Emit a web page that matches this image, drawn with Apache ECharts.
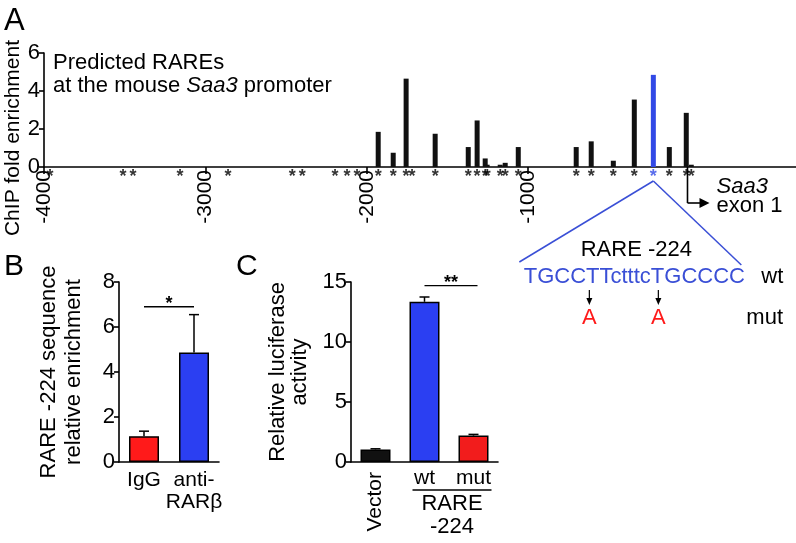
<!DOCTYPE html>
<html><head><meta charset="utf-8">
<script src="https://cdn.jsdelivr.net/npm/echarts@6/dist/echarts.min.js"></script>
<style>html,body{margin:0;padding:0;background:#fff}#c{width:796px;height:543px}</style>
</head><body><div id="c"></div>
<script>
// ---------- Panel A data ----------
const rarePositions = [-3963,-3510,-3448,-3157,-2859,-2462,-2400,-2196,-2122,-2060,-1929,-1836,-1756,-1719,-1576,-1371,-1316,-1266,-1254,-1173,-1142,-1061,-702,-609,-472,-342,-224,-125,-20,11];
const chipEnrichment = [null,null,null,null,null,null,null,null,null,null,1.85,0.75,4.65,null,1.75,1.05,2.45,0.45,0.12,0.12,0.22,1.05,1.05,1.35,0.33,3.55,4.85,1.05,2.85,0.12];
const highlightRare = -224;
const aXTicks = [-4000,-3000,-2000,-1000];
const aXMin = -4000, aXMax = 660;
const aYMax = 6, aYInterval = 2;
const tssPosition = 0;

// ---------- Panel B data ----------
const bCategories = ['IgG', 'anti-\nRARβ'];
const bValues = [1.15, 4.87];
const bErrors = [0.22, 1.68];
const bSigLevel = 6.9;
const bYMax = 8, bYInterval = 2;

// ---------- Panel C data ----------
const cCategories = ['Vector', 'wt', 'mut'];
const cValues = [1.05, 13.35, 2.2];
const cErrors = [0.05, 0.4, 0.1];
const cSigLevel = 14.7;
const cYMax = 15, cYInterval = 5;

// ---------- layout ----------
const gridA = {left: 44, right: 0, top: 53, height: 114};
const gridStars = {left: 44, right: 0, top: 169, height: 16};
const gridB = {left: 119, width: 100, top: 282, height: 180};
const gridC = {left: 351, width: 147, top: 282, height: 180};

const FONT = '"Liberation Sans", Arial, Helvetica, sans-serif';
const BLACK = '#111111';
const BLUE = '#3149e6';
const SEQBLUE = '#3a4fd6';
const RED = '#ff1a1a';
const CRED = '#f21c1c';
const CBLUE = '#2b3ff2';

const chart = echarts.init(document.getElementById('c'), null, {renderer: 'canvas'});

function errorRender(params, api) {
  const x = api.value(0), v = api.value(1), e = api.value(2);
  const p0 = api.coord([x, v]);
  const p1 = api.coord([x, v + e]);
  const hw = 5;
  return {type: 'group', children: [
    {type: 'line', shape: {x1: p0[0], y1: p0[1], x2: p1[0], y2: p1[1]}, style: {stroke: '#000', lineWidth: 1.5}},
    {type: 'line', shape: {x1: p1[0] - hw, y1: p1[1], x2: p1[0] + hw, y2: p1[1]}, style: {stroke: '#000', lineWidth: 1.5}}
  ]};
}

const axisLineStyle = {show: true, onZero: false, lineStyle: {color: '#000', width: 1.6}};
const tickStyle = {show: true, length: 5, lineStyle: {color: '#000', width: 1.6}};

const option = {
  animation: false,
  backgroundColor: '#fff',
  textStyle: {fontFamily: FONT},
  grid: [gridA, gridStars, gridB, gridC],
  xAxis: [
    {gridIndex: 0, type: 'value', min: aXMin, max: aXMax, splitLine: {show: false},
     axisLine: axisLineStyle,
     axisTick: {show: true, length: 7, lineStyle: {color: '#000', width: 1.6}, customValues: aXTicks},
     axisLabel: {show: true, rotate: 90, margin: 3, fontSize: 21, color: '#000', fontFamily: FONT, customValues: aXTicks,
       formatter: v => String(v)}},
    {gridIndex: 1, type: 'value', min: aXMin, max: aXMax, show: false},
    {gridIndex: 2, type: 'category', data: bCategories, axisLine: axisLineStyle, axisTick: {show: false},
     axisLabel: {interval: 0, fontSize: 21, color: '#000', margin: 7, lineHeight: 22, fontFamily: FONT}},
    {gridIndex: 3, type: 'category', data: cCategories, axisLine: axisLineStyle, axisTick: {show: false},
     axisLabel: {interval: 0, fontSize: 21, color: '#000', rotate: 90, margin: 10, fontFamily: FONT,
       formatter: (v, i) => i === 0 ? v : ''}},
    {gridIndex: 3, type: 'category', data: cCategories, position: 'bottom', axisLine: {show: false}, axisTick: {show: false},
     axisLabel: {interval: 0, fontSize: 21, color: '#000', margin: 6, fontFamily: FONT,
       formatter: (v, i) => i === 0 ? '' : v}}
  ],
  yAxis: [
    {gridIndex: 0, type: 'value', min: 0, max: aYMax, interval: aYInterval, splitLine: {show: false},
     axisLine: axisLineStyle, axisTick: tickStyle,
     axisLabel: {fontSize: 22, color: '#000', margin: 4, fontFamily: FONT}},
    {gridIndex: 1, type: 'value', min: -1, max: 1, show: false},
    {gridIndex: 2, type: 'value', min: 0, max: bYMax, interval: bYInterval, splitLine: {show: false},
     axisLine: axisLineStyle, axisTick: tickStyle,
     axisLabel: {fontSize: 22, color: '#000', margin: 4, fontFamily: FONT}},
    {gridIndex: 3, type: 'value', min: 0, max: cYMax, interval: cYInterval, splitLine: {show: false},
     axisLine: axisLineStyle, axisTick: tickStyle,
     axisLabel: {fontSize: 22, color: '#000', margin: 4, fontFamily: FONT}}
  ],
  series: [
    {type: 'bar', xAxisIndex: 0, yAxisIndex: 0, barWidth: 5,
     data: rarePositions.map((p, i) => chipEnrichment[i] == null ? null : {
       value: [p, chipEnrichment[i]],
       itemStyle: {color: p === highlightRare ? BLUE : BLACK}
     }).filter(d => d)},
    {type: 'scatter', xAxisIndex: 1, yAxisIndex: 1, symbolSize: 0, z: 5,
     data: rarePositions.map(p => ({value: [p, 0],
       label: {color: p === highlightRare ? BLUE : '#000'}})),
     label: {show: true, formatter: '*', position: 'inside', fontSize: 18, fontWeight: 'bold', fontFamily: FONT}},
    {type: 'bar', xAxisIndex: 2, yAxisIndex: 2, barWidth: 30,
     data: bValues.map((v, i) => ({value: v, itemStyle: {color: i === 0 ? RED : CBLUE}})),
     itemStyle: {borderColor: '#000', borderWidth: 1.5}},
    {type: 'custom', xAxisIndex: 2, yAxisIndex: 2, z: 10, renderItem: errorRender,
     data: bValues.map((v, i) => [i, v, bErrors[i]])},
    {type: 'bar', xAxisIndex: 3, yAxisIndex: 3, barWidth: 30,
     data: cValues.map((v, i) => ({value: v, itemStyle: {color: [BLACK, CBLUE, CRED][i]}})),
     itemStyle: {borderColor: '#000', borderWidth: 1.5}},
    {type: 'custom', xAxisIndex: 3, yAxisIndex: 3, z: 10, renderItem: errorRender,
     data: cValues.map((v, i) => [i, v, cErrors[i]])}
  ]
};
chart.setOption(option);

// ---------- annotations positioned from the chart's own scales ----------
const pA = (x, y) => chart.convertToPixel({xAxisIndex: 0, yAxisIndex: 0}, [x, y]);
const pStar = (x) => chart.convertToPixel({xAxisIndex: 1, yAxisIndex: 1}, [x, 0]);
const pB = (x, y) => chart.convertToPixel({xAxisIndex: 2, yAxisIndex: 2}, [x, y]);
const pC = (x, y) => chart.convertToPixel({xAxisIndex: 4, yAxisIndex: 3}, [x, y]);

const a0 = pA(aXMin, 0), aTop = pA(aXMin, aYMax);
const tss = pA(tssPosition, 0);
const apex = pStar(highlightRare);
const b0 = pB(0, 0), bTop = pB(0, bYMax);
const bs1 = pB(0, bSigLevel), bs2 = pB(1, bSigLevel);
const cs1 = pC(1, cSigLevel), cs2 = pC(2, cSigLevel);
const cwt = pC(1, 0), cmut = pC(2, 0);

const t = (text, x, y, opts) => Object.assign({type: 'text', x: x, y: y,
  style: Object.assign({text: text, fontSize: 21, fontFamily: FONT, fill: '#000', align: 'left', verticalAlign: 'middle'}, opts || {})});
const ln = (x1, y1, x2, y2, color, w) => ({type: 'line', shape: {x1, y1, x2, y2}, style: {stroke: color || '#000', lineWidth: w || 1.5}});

const seqCenterX = apex[0] - 19;
const seqY = 277;
const midBY = (b0[1] + bTop[1]) / 2;
const g = [
  // panel letters
  t('A', 4, 21, {fontSize: 31}),
  t('B', 4, 267, {fontSize: 30}),
  t('C', 236, 267, {fontSize: 30}),
  // panel A title
  {type: 'text', x: a0[0] + 9, y: aTop[1] + 21, style: {
    rich: {n: {fontSize: 22, fontFamily: FONT, fill: '#000', lineHeight: 23},
           i: {fontSize: 22, fontFamily: FONT, fill: '#000', fontStyle: 'italic', lineHeight: 23}},
    text: '{n|Predicted RAREs}\n{n|at the mouse }{i|Saa3}{n| promoter}', verticalAlign: 'middle'}},
  // panel A y name
  {type: 'text', x: 13, y: 138, rotation: Math.PI / 2,
   style: {text: 'ChIP fold enrichment', fontSize: 21, fontFamily: FONT, fill: '#000', align: 'center', verticalAlign: 'middle'}},
  // Saa3 TSS arrow
  ln(tss[0] - 2, tss[1], tss[0] - 2, tss[1] + 36, '#000', 1.6),
  ln(tss[0] - 2, tss[1] + 36, tss[0] + 12, tss[1] + 36, '#000', 1.6),
  {type: 'polygon', shape: {points: [[tss[0] + 10, tss[1] + 31], [tss[0] + 20, tss[1] + 36], [tss[0] + 10, tss[1] + 41]]}, style: {fill: '#000'}},
  t('Saa3', tss[0] + 27, tss[1] + 20, {fontStyle: 'italic', fontSize: 22}),
  t('exon 1', tss[0] + 27, tss[1] + 39, {fontSize: 22}),
  // RARE -224 zoom lines
  ln(apex[0], apex[1] + 4, seqCenterX - 115, 262, SEQBLUE, 1.5),
  ln(apex[0], apex[1] + 4, seqCenterX + 107, 265, SEQBLUE, 1.5),
  t('RARE -224', seqCenterX + 2, 250, {align: 'center', fontSize: 22}),
  t('TGCCTTctttcTGCCCC', seqCenterX, seqY, {align: 'center', fill: SEQBLUE, fontSize: 22}),
  t('wt', seqCenterX + 127, seqY, {fontSize: 22}),
  ln(seqCenterX - 45, 290, seqCenterX - 45, 300, '#000', 1.2),
  {type: 'polygon', shape: {points: [[seqCenterX - 48, 298], [seqCenterX - 42, 298], [seqCenterX - 45, 305]]}, style: {fill: '#000'}},
  ln(seqCenterX + 24, 290, seqCenterX + 24, 300, '#000', 1.2),
  {type: 'polygon', shape: {points: [[seqCenterX + 21, 298], [seqCenterX + 27, 298], [seqCenterX + 24, 305]]}, style: {fill: '#000'}},
  t('A', seqCenterX - 45, 318, {align: 'center', fill: RED, fontSize: 22}),
  t('A', seqCenterX + 24, 318, {align: 'center', fill: RED, fontSize: 22}),
  t('mut', seqCenterX + 112, 318, {fontSize: 22}),
  // panel B y name
  {type: 'text', x: gridB.left - 58, y: midBY, rotation: Math.PI / 2,
   style: {text: 'RARE -224 sequence\nrelative enrichment', fontSize: 22, lineHeight: 25, fontFamily: FONT, fill: '#000', align: 'center', verticalAlign: 'middle'}},
  // panel C y name
  {type: 'text', x: gridC.left - 62, y: midBY, rotation: Math.PI / 2,
   style: {text: 'Relative luciferase\nactivity', fontSize: 22, lineHeight: 22, fontFamily: FONT, fill: '#000', align: 'center', verticalAlign: 'middle'}},
  // significance B
  ln(bs1[0], bs1[1], bs2[0], bs2[1], '#000', 1.3),
  t('*', (bs1[0] + bs2[0]) / 2, bs1[1] - 3, {align: 'center', fontSize: 18, fontWeight: 'bold'}),
  // significance C
  ln(cs1[0], cs1[1], cs2[0] + 4, cs2[1], '#000', 1.3),
  t('**', (cs1[0] + cs2[0]) / 2 + 2, cs1[1] - 3, {align: 'center', fontSize: 18, fontWeight: 'bold'}),
  // C group label
  ln(cwt[0] - 12, 490, cmut[0] + 18, 490, '#000', 1.6),
  t('RARE', (cwt[0] + cmut[0]) / 2 + 3, 504, {align: 'center', fontSize: 22}),
  t('-224', (cwt[0] + cmut[0]) / 2 + 3, 527, {align: 'center', fontSize: 22})
];
chart.setOption({graphic: {elements: g}});
</script>
</body></html>
